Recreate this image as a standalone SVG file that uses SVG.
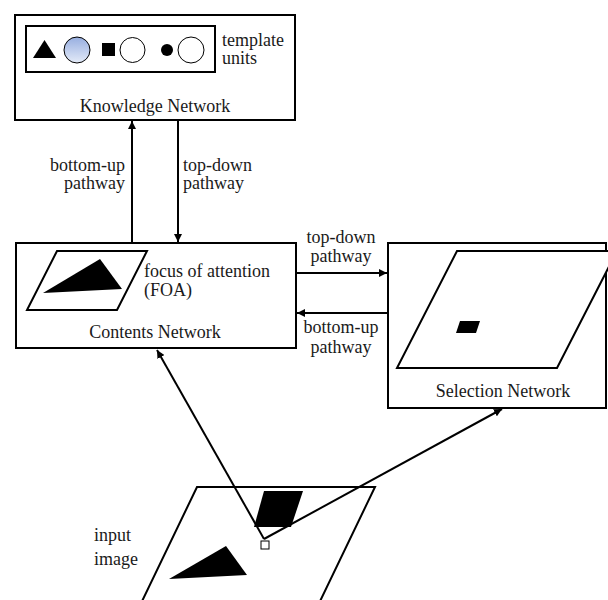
<svg xmlns="http://www.w3.org/2000/svg" width="608" height="600" viewBox="0 0 608 600">
<style>
.box{fill:#fff;stroke:#000;stroke-width:2}
.para{fill:#fff;stroke:#000;stroke-width:2;stroke-linejoin:miter}
.blk{fill:#000;stroke:none}
.t{font-family:"Liberation Serif","Times New Roman",serif;font-size:18px;fill:#1a1a1a}
.c{text-anchor:middle}
.e{text-anchor:end}
.ln{stroke:#000;stroke-width:2;fill:none}
.circ{fill:#fff;stroke:#000;stroke-width:1}
</style>
<defs>
<linearGradient id="blue" x1="0" y1="0" x2="0" y2="1">
<stop offset="0" stop-color="#97aee0"/>
<stop offset="1" stop-color="#e4ebf8"/>
</linearGradient>
<marker id="ah" viewBox="0 0 10 10" refX="10" refY="5" markerWidth="4" markerHeight="4" orient="auto" markerUnits="strokeWidth">
<path d="M0,0 L10,5 L0,10 Z" fill="#000"/>
</marker>
</defs>

<g id="knowledge-network">
<rect class="box" x="15" y="15" width="280" height="105"/>
<rect class="box" x="26" y="26" width="189" height="46"/>
<polygon class="blk" points="33,58 56,58 44.5,40"/>
<circle cx="77" cy="50" r="13" fill="url(#blue)" stroke="#000" stroke-width="1"/>
<rect class="blk" x="102" y="43" width="13" height="13"/>
<circle class="circ" cx="132.5" cy="50" r="12.5"/>
<circle class="blk" cx="167" cy="50" r="6"/>
<circle class="circ" cx="191" cy="50" r="13"/>
<text class="t" x="222" y="46">template</text>
<text class="t" x="222" y="64">units</text>
<text class="t c" x="155" y="112">Knowledge Network</text>
</g>

<g id="contents-network">
<rect class="box" x="16" y="243" width="280" height="105"/>
<polygon class="para" points="57,251 147,251 117,310 27,310"/>
<polygon class="blk" points="43,293 100,259 122,289"/>
<text class="t" x="144" y="277">focus of attention</text>
<text class="t" x="144" y="296">(FOA)</text>
<text class="t c" x="155" y="338">Contents Network</text>
</g>

<g id="selection-network">
<rect class="box" x="388" y="243" width="218" height="165"/>
<polygon class="para" points="457,251 617,251 557,368 397,368"/>
<polygon class="blk" points="460,321 480,321 476,333 456,333"/>
<text class="t c" x="503" y="397">Selection Network</text>
</g>

<g id="input-image">
<polygon class="para" points="197,487 375,487 311,620 133,620"/>
<polygon class="blk" points="264,491 303,491 291,527 254,527"/>
<polygon class="blk" points="169,579 226,546 247,575"/>
<text class="t" x="94" y="541">input</text>
<text class="t" x="94" y="565">image</text>
</g>

<g id="connectors">
<line class="ln" x1="132" y1="243" x2="132" y2="121" marker-end="url(#ah)"/>
<line class="ln" x1="178" y1="120" x2="178" y2="242" marker-end="url(#ah)"/>
<line class="ln" x1="296" y1="273" x2="387" y2="273" marker-end="url(#ah)"/>
<line class="ln" x1="388" y1="313" x2="297" y2="313" marker-end="url(#ah)"/>
<line class="ln" x1="264" y1="539" x2="157" y2="350" marker-end="url(#ah)"/>
<line class="ln" x1="264" y1="539" x2="502" y2="409" marker-end="url(#ah)"/>
<rect x="261" y="541" width="8" height="8" fill="#fff" stroke="#000" stroke-width="1"/>
<text class="t e" x="125" y="171">bottom-up</text>
<text class="t e" x="125" y="189">pathway</text>
<text class="t" x="183" y="171">top-down</text>
<text class="t" x="183" y="189">pathway</text>
<text class="t c" x="341" y="243">top-down</text>
<text class="t c" x="341" y="262">pathway</text>
<text class="t c" x="341" y="333">bottom-up</text>
<text class="t c" x="341" y="353">pathway</text>
</g>
</svg>
